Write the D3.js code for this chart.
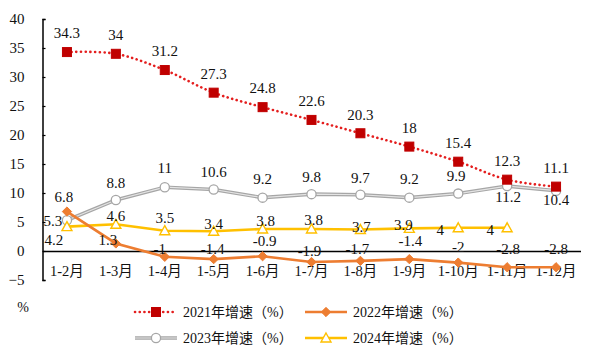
<!DOCTYPE html>
<html>
<head>
<meta charset="utf-8">
<script src="https://cdn.jsdelivr.net/npm/d3@7"></script>
<style>
  body { margin: 0; background: #fff; }
  svg text { font-family: "Liberation Serif", "Noto Sans CJK SC", serif; fill: #111; }
</style>
</head>
<body>
<div id="container"></div>
<script>
// Categories (cumulative months)
var months = ["1-2月", "1-3月", "1-4月", "1-5月", "1-6月", "1-7月", "1-8月", "1-9月", "1-10月", "1-11月", "1-12月"];

// Growth rates per year (%)
var rate2021 = [34.3, 34, 31.2, 27.3, 24.8, 22.6, 20.3, 18, 15.4, 12.3, 11.1];
var rate2022 = [6.8, 1.3, -1, -1.4, -0.9, -1.9, -1.7, -1.4, -2, -2.8, -2.8];
var rate2023 = [5.3, 8.8, 11, 10.6, 9.2, 9.8, 9.7, 9.2, 9.9, 11.2, 10.4];
var rate2024 = [4.2, 4.6, 3.5, 3.4, 3.8, 3.8, 3.7, 3.9, 4, 4];

var yTicks = [-5, 0, 5, 10, 15, 20, 25, 30, 35, 40];

// Data label nudges [dx, dy] (placement only)
var off2021 = months.map(() => [0, -19]);
var off2022 = [[-3,-15],[-8,-4],[-5,-8],[-1,-10],[2,-15],[-2,-11],[-3,-12],[1,-18],[0,-16],[1,-18],[0,-18]];
var off2023 = [[-14,0],[0,-17],[0,-19],[0,-18],[0,-19],[0,-17],[0,-17],[0,-19],[-2,-18],[1,11],[0,9]];
var off2024 = [[-13,13],[0,-9],[0,-13],[0,-8],[3,-8],[2,-9],[1,-3],[-6,-4],[-18,2],[-17,2]];

var width = 600, height = 359;
var serif = '"Liberation Serif", "Noto Sans CJK SC", serif';

var svg = d3.select("#container").append("svg")
  .attr("width", width)
  .attr("height", height)
  .style("font-family", serif);

var x = d3.scaleBand().domain(months).range([42.5, 580.5]);
var y = d3.scaleLinear().domain([-5, 40]).range([280, 19]);
var cx = (d) => x(d) + x.bandwidth() / 2;

// y axis with small inward ticks
var yAxis = d3.axisLeft(y).tickValues(yTicks).tickSizeInner(-3).tickSizeOuter(-3).tickPadding(18);
var gy = svg.append("g").attr("transform", "translate(42.5,0)").call(yAxis);
gy.attr("font-family", serif);
gy.select(".domain").attr("stroke", "#000").attr("stroke-width", 1.5);
gy.selectAll(".tick line").attr("stroke", "#000").attr("stroke-width", 1.2);
gy.selectAll("text").style("font-size", "15px").attr("fill", "#111");

// x axis at zero
var xAxis = d3.axisBottom(x).tickSize(0).tickSizeOuter(0);
var gx = svg.append("g").attr("transform", "translate(0," + y(0) + ")").call(xAxis);
gx.attr("font-family", serif);
gx.select(".domain").attr("stroke", "#000").attr("stroke-width", 1.5);
gx.selectAll("text").style("font-size", "14.5px").attr("y", 20).attr("dy", "0.35em").attr("fill", "#111");

svg.append("text").attr("x", 23).attr("y", 307).attr("dy", "0.35em")
  .attr("text-anchor", "middle").style("font-size", "14px").text("%");

// series definitions
var series = [
  { name: "2023年增速（%）", values: rate2023, offs: off2023, color: "#A6A6A6", marker: "circle", curve: d3.curveLinear },
  { name: "2024年增速（%）", values: rate2024, offs: off2024, color: "#FFC000", marker: "triangle", curve: d3.curveLinear },
  { name: "2022年增速（%）", values: rate2022, offs: off2022, color: "#ED7D31", marker: "diamond", curve: d3.curveLinear },
  { name: "2021年增速（%）", values: rate2021, offs: off2021, color: "#C00000", marker: "square", curve: d3.curveCardinal.tension(0) }
];

function drawLine(g, pts, s, curve) {
  var line = d3.line().x((d) => d[0]).y((d) => d[1]).curve(curve);
  if (s.marker === "circle") {
    g.append("path").attr("d", line(pts)).attr("fill", "none").attr("stroke", "#A6A6A6").attr("stroke-width", 3.6);
    g.append("path").attr("d", line(pts)).attr("fill", "none").attr("stroke", "#E4E4E4").attr("stroke-width", 1.2);
  } else if (s.marker === "square") {
    g.append("path").attr("d", line(pts)).attr("fill", "none").attr("stroke", "#E41E1E")
      .attr("stroke-width", 2.6).attr("stroke-dasharray", "0.1,4.6").attr("stroke-linecap", "round");
  } else {
    g.append("path").attr("d", line(pts)).attr("fill", "none").attr("stroke", s.color).attr("stroke-width", 2.6);
  }
}

function drawMarker(g, px, py, s) {
  if (s.marker === "square") {
    g.append("rect").attr("x", px - 4.5).attr("y", py - 4.5).attr("width", 9).attr("height", 9)
      .attr("fill", "#C00000").attr("stroke", "#C00000");
  } else if (s.marker === "diamond") {
    g.append("path").attr("d", d3.symbol(d3.symbolDiamond2, 55)()).attr("transform", "translate(" + px + "," + py + ")")
      .attr("fill", "#ED7D31").attr("stroke", "#ED7D31");
  } else if (s.marker === "circle") {
    g.append("circle").attr("cx", px).attr("cy", py).attr("r", 4.6)
      .attr("fill", "#fff").attr("stroke", "#A6A6A6").attr("stroke-width", 1.3);
  } else {
    g.append("path").attr("d", "M0,-5L5,4H-5Z").attr("transform", "translate(" + px + "," + py + ")")
      .attr("fill", "#fff").attr("stroke", "#FFC000").attr("stroke-width", 1.4);
  }
}

series.forEach(function(s) {
  var g = svg.append("g");
  var pts = s.values.map((v, i) => [cx(months[i]), y(v)]);
  drawLine(g, pts, s, s.curve);
  pts.forEach((p) => drawMarker(g, p[0], p[1], s));
});

// data labels on top
series.forEach(function(s) {
  svg.append("g").selectAll("text")
    .data(s.values)
    .enter()
    .append("text")
    .attr("x", (d, i) => cx(months[i]) + s.offs[i][0])
    .attr("y", (d, i) => y(d) + s.offs[i][1])
    .attr("dy", "0.35em")
    .attr("text-anchor", "middle")
    .style("font-size", "15px")
    .text((d) => d);
});

// legend
var legendItems = [
  { s: series[3], lx: 135, ly: 312 },
  { s: series[2], lx: 305, ly: 312 },
  { s: series[0], lx: 135, ly: 338 },
  { s: series[1], lx: 305, ly: 338 }
];
legendItems.forEach(function(it) {
  var g = svg.append("g");
  drawLine(g, [[it.lx, it.ly], [it.lx + 42, it.ly]], it.s, d3.curveLinear);
  drawMarker(g, it.lx + 21, it.ly, it.s);
  g.append("text").attr("x", it.lx + 48).attr("y", it.ly).attr("dy", "0.35em")
    .style("font-size", "14px").text(it.s.name);
});
</script>
</body>
</html>
